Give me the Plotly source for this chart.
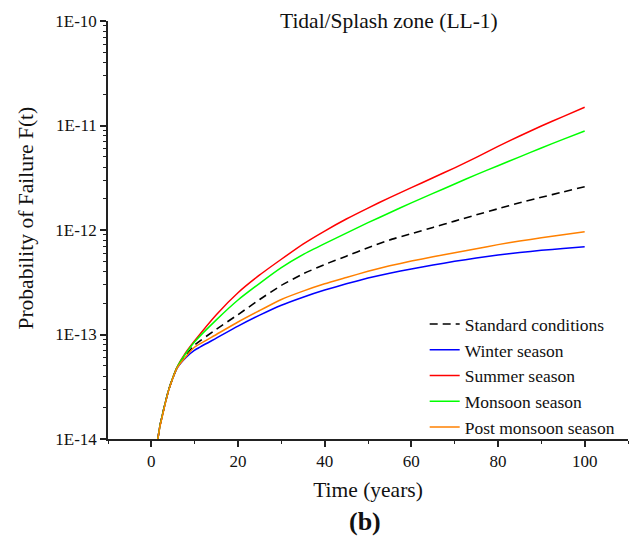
import plotly.graph_objects as go

# ---- data ----
t = [1.5, 2, 2.5, 3, 4, 5, 6, 8, 10, 15, 20, 25, 30, 35, 40, 45, 50,
     55, 60, 65, 70, 75, 80, 85, 90, 95, 100]

standard = [1.0e-14, 1.35e-14, 1.66e-14, 2.04e-14, 2.95e-14, 3.89e-14, 4.88e-14, 6.31e-14,
            7.94e-14, 1.122e-13, 1.549e-13, 2.163e-13, 2.951e-13, 3.802e-13, 4.677e-13,
            5.623e-13, 6.761e-13, 8.035e-13, 9.226e-13, 1.059e-12, 1.216e-12, 1.396e-12,
            1.596e-12, 1.820e-12, 2.056e-12, 2.312e-12, 2.594e-12]
winter = [1.0e-14, 1.35e-14, 1.66e-14, 2.04e-14, 2.95e-14, 3.87e-14, 4.80e-14, 6.03e-14,
          7.08e-14, 9.226e-14, 1.202e-13, 1.531e-13, 1.905e-13, 2.275e-13, 2.661e-13,
          3.055e-13, 3.467e-13, 3.864e-13, 4.236e-13, 4.624e-13, 5.012e-13, 5.395e-13,
          5.754e-13, 6.095e-13, 6.383e-13, 6.653e-13, 6.918e-13]
summer = [1.0e-14, 1.35e-14, 1.66e-14, 2.04e-14, 2.95e-14, 3.90e-14, 4.92e-14, 6.76e-14,
          8.71e-14, 1.549e-13, 2.512e-13, 3.715e-13, 5.248e-13, 7.328e-13, 9.772e-13,
          1.274e-12, 1.622e-12, 2.042e-12, 2.541e-12, 3.162e-12, 3.936e-12, 4.955e-12,
          6.310e-12, 7.943e-12, 9.886e-12, 1.216e-11, 1.493e-11]
monsoon = [1.0e-14, 1.35e-14, 1.66e-14, 2.04e-14, 2.95e-14, 3.90e-14, 4.91e-14, 6.61e-14,
           8.51e-14, 1.380e-13, 2.138e-13, 3.090e-13, 4.365e-13, 5.821e-13, 7.413e-13,
           9.333e-13, 1.175e-12, 1.462e-12, 1.820e-12, 2.239e-12, 2.754e-12, 3.388e-12,
           4.121e-12, 5.012e-12, 6.095e-12, 7.362e-12, 8.851e-12]
post_monsoon = [1.0e-14, 1.33e-14, 1.63e-14, 2.01e-14, 2.92e-14, 3.86e-14, 4.82e-14, 6.17e-14,
                7.59e-14, 1.0e-13, 1.318e-13, 1.698e-13, 2.163e-13, 2.600e-13, 3.055e-13,
                3.508e-13, 4.027e-13, 4.539e-13, 5.047e-13, 5.534e-13, 6.053e-13, 6.607e-13,
                7.244e-13, 7.852e-13, 8.414e-13, 9.016e-13, 9.638e-13]

series_names = ["Standard conditions", "Winter season", "Summer season",
                "Monsoon season", "Post monsoon season"]
x_ticks = [0, 20, 40, 60, 80, 100]
y_tickvals = [1e-14, 1e-13, 1e-12, 1e-11, 1e-10]
y_ticktext = ["1E-14", "1E-13", "1E-12", "1E-11", "1E-10"]

FONT = "Liberation Serif, Times New Roman, serif"
TXT = "#111"

fig = go.Figure()
styles = [
    dict(color="#000000", width=1.6, dash="8px,5px"),
    dict(color="#0000FF", width=1.5),
    dict(color="#FF0000", width=1.5),
    dict(color="#00FF00", width=1.5),
    dict(color="#FF8000", width=1.5),
]
for name, ys, st in zip(series_names, [standard, winter, summer, monsoon, post_monsoon], styles):
    fig.add_trace(go.Scatter(x=t, y=ys, mode="lines", name=name,
                             line=dict(shape="spline", smoothing=0.5, **st)))

fig.update_layout(
    width=632, height=540,
    margin=dict(l=108, r=4, t=21, b=101),
    paper_bgcolor="white", plot_bgcolor="white",
    font=dict(family=FONT, color=TXT, size=17),
    showlegend=True,
    legend=dict(x=0.609, y=0.318, xanchor="left", yanchor="top",
                bgcolor="rgba(0,0,0,0)", font=dict(family=FONT, size=17.5, color=TXT),
                tracegroupgap=0, itemwidth=30),
    annotations=[
        dict(text="Tidal/Splash zone (LL-1)", x=0.54, y=1.0, xref="paper", yref="paper",
             xanchor="center", yanchor="middle", showarrow=False,
             font=dict(family=FONT, size=21.5, color=TXT)),
        dict(text="Probability of Failure F(t)", x=-0.1596, y=0.5275, xref="paper",
             yref="paper", xanchor="center", yanchor="middle", showarrow=False,
             textangle=-90, font=dict(family=FONT, size=21.5, color=TXT)),
        dict(text="<b>(b)</b>", x=0.494, y=-0.198, xref="paper", yref="paper",
             xanchor="center", yanchor="middle", showarrow=False,
             font=dict(family=FONT, size=26, color=TXT)),
    ],
)

fig.update_xaxes(
    range=[-10, 110], tickvals=x_ticks, ticks="outside", ticklen=6, tickwidth=1.5,
    tickcolor="#222", showline=True, linecolor="#222", linewidth=1.5, showgrid=False,
    zeroline=False, mirror=False,
    minor=dict(ticks="outside", ticklen=3.5, tickwidth=1.2, tickcolor="#222", dtick=10,
               tick0=0, showgrid=False),
    tickfont=dict(family=FONT, size=17, color=TXT),
    title=dict(text="Time (years)", font=dict(family=FONT, size=21.5, color=TXT), standoff=12),
)
fig.update_yaxes(
    type="log", range=[-14, -10], tickvals=y_tickvals, ticktext=y_ticktext,
    ticks="outside", ticklen=6, tickwidth=1.5, tickcolor="#222",
    showline=True, linecolor="#222", linewidth=1.5, showgrid=False, zeroline=False,
    minor=dict(ticks="outside", ticklen=3.5, tickwidth=1.2, tickcolor="#222", dtick="D1",
               showgrid=False),
    tickfont=dict(family=FONT, size=17, color=TXT),
)

fig.write_html("out.html")
